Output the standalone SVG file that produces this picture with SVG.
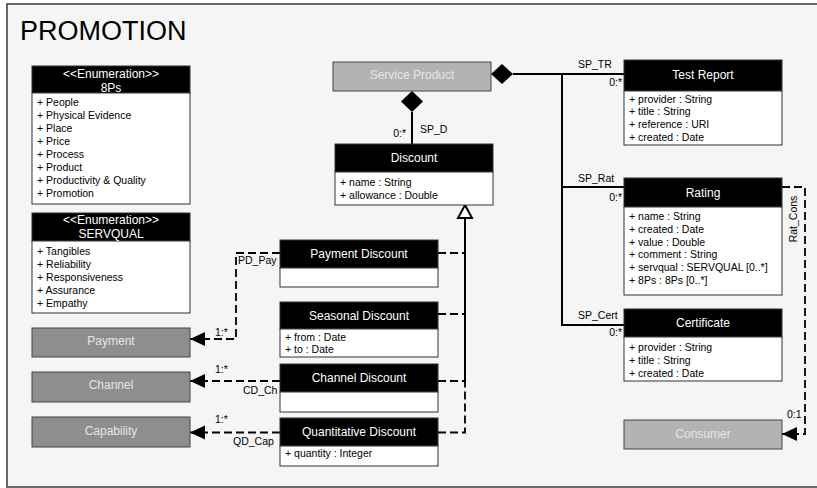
<svg xmlns="http://www.w3.org/2000/svg" width="817" height="488" viewBox="0 0 817 488">
  <style>
    text { font-family: "Liberation Sans", Arial, sans-serif; }
    .frame { fill: #f5f5f5; stroke: #3a3a3a; stroke-width: 1.5; }
    .title { font-size: 27px; fill: #000; }
    .hdr { fill: #000; stroke: #333; stroke-width: 1; }
    .body { fill: #fff; stroke: #333; stroke-width: 1; }
    .hdrtxt { font-size: 12px; fill: #fff; text-anchor: middle; }
    .item { font-size: 10.5px; fill: #000; }
    .ext { fill: #8e8e8e; stroke: #444; stroke-width: 1; }
    .ext2 { fill: #b3b3b3; stroke: #444; stroke-width: 1; }
    .exttxt { font-size: 12px; fill: #e6e6e6; text-anchor: middle; }
    .solid { fill: none; stroke: #000; stroke-width: 2; }
    .dash { fill: none; stroke: #000; stroke-width: 1.8; stroke-dasharray: 8 4; }
    .lbl { font-size: 10.5px; fill: #000; }
    .end { text-anchor: end; }
  </style>
  <defs>
    <marker id="arrow" viewBox="0 -8 15 16" refX="15" refY="0" markerWidth="15" markerHeight="16" markerUnits="userSpaceOnUse" orient="auto">
      <path d="M0,-7 L15,0 L0,7 Z" fill="#000"/>
    </marker>
  </defs>

  <!-- package frame -->
  <rect class="frame" x="7" y="4" width="815" height="483"/>
  <text class="title" x="20" y="39.5">PROMOTION</text>

  <!-- connectors -->
  <g id="connectors">
    <!-- composition: Service Product -> Discount -->
    <polygon points="412,91 423,101.5 412,112 401,101.5" fill="#000"/>
    <line class="solid" x1="412" y1="112" x2="412" y2="144"/>
    <text class="lbl" x="420" y="133">SP_D</text>
    <text class="lbl end" x="406" y="137">0:*</text>

    <!-- composition: Service Product -> Test Report / Rating / Certificate -->
    <polygon points="491,74 502,64 513,74 502,84" fill="#000"/>
    <path class="solid" d="M513,74 H624 M562,74 V325 H624 M562,187 H624"/>
    <text class="lbl" x="578" y="68">SP_TR</text>
    <text class="lbl end" x="622" y="86">0:*</text>
    <text class="lbl" x="578" y="182">SP_Rat</text>
    <text class="lbl end" x="622" y="201">0:*</text>
    <text class="lbl" x="578" y="319">SP_Cert</text>
    <text class="lbl end" x="622" y="336">0:*</text>

    <!-- generalization of the discount kinds -->
    <line class="solid" x1="465" y1="218" x2="465" y2="381"/>
    <polygon points="465,205 472,218 458,218" fill="#fff" stroke="#000" stroke-width="2"/>
    <path class="dash" d="M438,253 H465"/>
    <path class="dash" d="M438,314 H465"/>
    <path class="dash" d="M438,381 H465"/>
    <path class="dash" d="M438,432.5 H465 V381"/>

    <!-- discount associations -->
    <path class="dash" d="M280,253 H236 V339 H190" marker-end="url(#arrow)"/>
    <text class="lbl" x="238" y="264">PD_Pay</text>
    <text class="lbl" x="215" y="336">1:*</text>

    <path class="dash" d="M280,381 H190" marker-end="url(#arrow)"/>
    <text class="lbl" x="215" y="372.5">1:*</text>
    <text class="lbl" x="243" y="394">CD_Ch</text>

    <path class="dash" d="M280,432.5 H190" marker-end="url(#arrow)"/>
    <text class="lbl" x="215" y="422.5">1:*</text>
    <text class="lbl" x="233" y="445">QD_Cap</text>

    <!-- rating -> consumer -->
    <path class="dash" d="M782,187 H805 V434 H782" marker-end="url(#arrow)"/>
    <text class="lbl" transform="translate(797,219) rotate(-90)" text-anchor="middle">Rat_Cons</text>
    <text class="lbl" x="787" y="418">0:1</text>
  </g>

  <!-- enumerations -->
  <g id="enum-8ps">
    <rect class="hdr" x="32" y="66" width="158" height="27"/>
    <rect class="body" x="32" y="93" width="158" height="111"/>
    <text class="hdrtxt" x="111" y="78">&lt;&lt;Enumeration&gt;&gt;</text>
    <text class="hdrtxt" x="111" y="91.5">8Ps</text>
    <text class="item" x="37" y="106">+ People</text>
    <text class="item" x="37" y="119">+ Physical Evidence</text>
    <text class="item" x="37" y="132">+ Place</text>
    <text class="item" x="37" y="145">+ Price</text>
    <text class="item" x="37" y="158">+ Process</text>
    <text class="item" x="37" y="171">+ Product</text>
    <text class="item" x="37" y="184">+ Productivity &amp; Quality</text>
    <text class="item" x="37" y="197">+ Promotion</text>
  </g>

  <g id="enum-servqual">
    <rect class="hdr" x="32" y="213" width="158" height="28"/>
    <rect class="body" x="32" y="241" width="158" height="72"/>
    <text class="hdrtxt" x="111" y="224">&lt;&lt;Enumeration&gt;&gt;</text>
    <text class="hdrtxt" x="111" y="237.5">SERVQUAL</text>
    <text class="item" x="37" y="254.5">+ Tangibles</text>
    <text class="item" x="37" y="267.5">+ Reliability</text>
    <text class="item" x="37" y="280.5">+ Responsiveness</text>
    <text class="item" x="37" y="293.5">+ Assurance</text>
    <text class="item" x="37" y="306.5">+ Empathy</text>
  </g>

  <!-- external classes -->
  <g id="service-product">
    <rect class="ext2" x="333" y="62" width="158" height="29"/>
    <text class="exttxt" x="412" y="78.5">Service Product</text>
  </g>
  <g id="consumer">
    <rect class="ext2" x="624" y="420" width="158" height="29"/>
    <text class="exttxt" x="703" y="437.5">Consumer</text>
  </g>
  <g id="payment">
    <rect class="ext" x="32" y="328" width="158" height="29"/>
    <text class="exttxt" x="111" y="344.5">Payment</text>
  </g>
  <g id="channel">
    <rect class="ext" x="32" y="372" width="158" height="30"/>
    <text class="exttxt" x="111" y="389">Channel</text>
  </g>
  <g id="capability">
    <rect class="ext" x="32" y="417" width="158" height="30"/>
    <text class="exttxt" x="111" y="434.5">Capability</text>
  </g>

  <!-- classes -->
  <g id="discount">
    <rect class="hdr" x="335" y="144" width="158" height="28"/>
    <rect class="body" x="335" y="172" width="158" height="33"/>
    <text class="hdrtxt" x="414" y="162">Discount</text>
    <text class="item" x="340" y="186">+ name : String</text>
    <text class="item" x="340" y="199">+ allowance : Double</text>
  </g>

  <g id="test-report">
    <rect class="hdr" x="624" y="60" width="158" height="31"/>
    <rect class="body" x="624" y="91" width="158" height="54"/>
    <text class="hdrtxt" x="703" y="79">Test Report</text>
    <text class="item" x="629" y="102.5">+ provider : String</text>
    <text class="item" x="629" y="115.3">+ title : String</text>
    <text class="item" x="629" y="128">+ reference : URI</text>
    <text class="item" x="629" y="140.7">+ created : Date</text>
  </g>

  <g id="rating">
    <rect class="hdr" x="624" y="178" width="158" height="29"/>
    <rect class="body" x="624" y="207" width="158" height="88"/>
    <text class="hdrtxt" x="703" y="196.5">Rating</text>
    <text class="item" x="629" y="220">+ name : String</text>
    <text class="item" x="629" y="233">+ created : Date</text>
    <text class="item" x="629" y="245.5">+ value : Double</text>
    <text class="item" x="629" y="258.3">+ comment : String</text>
    <text class="item" x="629" y="271">+ servqual : SERVQUAL [0..*]</text>
    <text class="item" x="629" y="284">+ 8Ps : 8Ps [0..*]</text>
  </g>

  <g id="certificate">
    <rect class="hdr" x="624" y="309" width="158" height="28"/>
    <rect class="body" x="624" y="337" width="158" height="44"/>
    <text class="hdrtxt" x="703" y="327">Certificate</text>
    <text class="item" x="629" y="351">+ provider : String</text>
    <text class="item" x="629" y="364">+ title : String</text>
    <text class="item" x="629" y="376.5">+ created : Date</text>
  </g>

  <g id="payment-discount">
    <rect class="hdr" x="280" y="240" width="158" height="28"/>
    <rect class="body" x="280" y="268" width="158" height="19"/>
    <text class="hdrtxt" x="359" y="258">Payment Discount</text>
  </g>

  <g id="seasonal-discount">
    <rect class="hdr" x="280" y="302" width="158" height="27"/>
    <rect class="body" x="280" y="329" width="158" height="28"/>
    <text class="hdrtxt" x="359" y="320">Seasonal Discount</text>
    <text class="item" x="285" y="340.7">+ from : Date</text>
    <text class="item" x="285" y="353.3">+ to : Date</text>
  </g>

  <g id="channel-discount">
    <rect class="hdr" x="280" y="364" width="158" height="28"/>
    <rect class="body" x="280" y="392" width="158" height="20"/>
    <text class="hdrtxt" x="359" y="382">Channel Discount</text>
  </g>

  <g id="quantitative-discount">
    <rect class="hdr" x="280" y="418" width="158" height="28"/>
    <rect class="body" x="280" y="446" width="158" height="20"/>
    <text class="hdrtxt" x="359" y="436">Quantitative Discount</text>
    <text class="item" x="285" y="457.3">+ quantity : Integer</text>
  </g>
</svg>
